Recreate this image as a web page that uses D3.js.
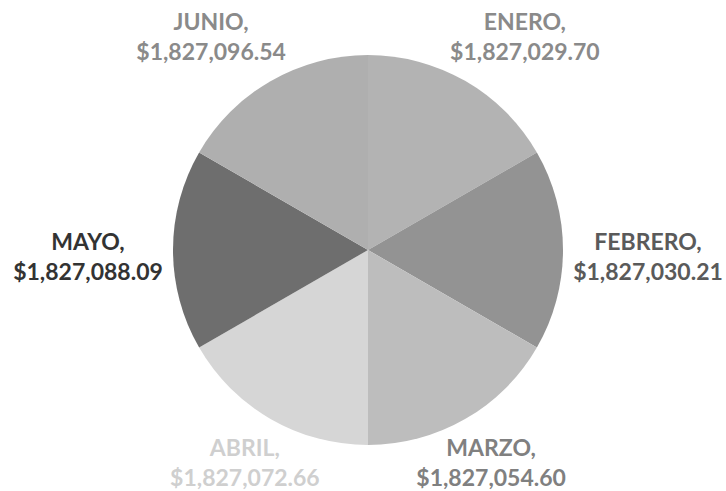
<!DOCTYPE html>
<html>
<head>
<meta charset="utf-8">
<script src="https://cdn.jsdelivr.net/npm/d3@7"></script>
<style>
  body { margin: 0; background: #fff; }
  text { font-family: Lato, "Open Sans", sans-serif; font-weight: bold; }
</style>
</head>
<body>
<svg width="726" height="491"></svg>
<script>
var months = ["ENERO", "FEBRERO", "MARZO", "ABRIL", "MAYO", "JUNIO"];
var totals = [1827029.70, 1827030.21, 1827054.60, 1827072.66, 1827088.09, 1827096.54];
var sliceColors = ["#b3b3b3", "#939393", "#bdbdbd", "#d6d6d6", "#6e6e6e", "#afafaf"];
var labelColors = ["#8a8a8a", "#5a5a5a", "#808080", "#cfcfcf", "#333333", "#8a8a8a"];

var svg = d3.select("svg");
var cx = 368, cy = 250, radius = 195;

var data = months.map(function(m, i) {
    return {month: m, value: totals[i], fill: sliceColors[i], ink: labelColors[i]};
});

var pie = d3.pie()
    .sort(null)
    .value(function(d) { return d.value; });

var arc = d3.arc()
    .innerRadius(0)
    .outerRadius(radius);

var money = d3.format("$,.2f");

var g = svg.append("g")
    .attr("transform", "translate(" + cx + "," + cy + ")");

var arcs = pie(data);

g.selectAll(".slice")
    .data(arcs)
  .enter().append("path")
    .attr("class", "slice")
    .attr("d", arc)
    .style("fill", function(d) { return d.data.fill; });

// labels sit outside the pie, roughly on an ellipse round the centre
// (top ones pushed a bit wider, bottom ones a bit closer, like excel does)
var labelRx = 280, labelRy = 246;

var label = g.selectAll(".label")
    .data(arcs)
  .enter().append("text")
    .attr("class", "label")
    .attr("text-anchor", "middle")
    .style("font-size", "23px")
    .style("fill", function(d) { return d.data.ink; })
    .attr("transform", function(d) {
        var a = (d.startAngle + d.endAngle) / 2;
        var x = Math.sin(a) * (labelRx + 39 * Math.cos(a));
        var y = -3 - Math.cos(a) * labelRy + 9 * Math.sin(a) * Math.sin(a);
        return "translate(" + x + "," + y + ")";
    });

label.append("tspan")
    .attr("x", 0)
    .attr("y", -6)
    .text(function(d) { return d.data.month + ","; });

label.append("tspan")
    .attr("x", 0)
    .attr("y", 24)
    .text(function(d) { return money(d.data.value); });
</script>
</body>
</html>
